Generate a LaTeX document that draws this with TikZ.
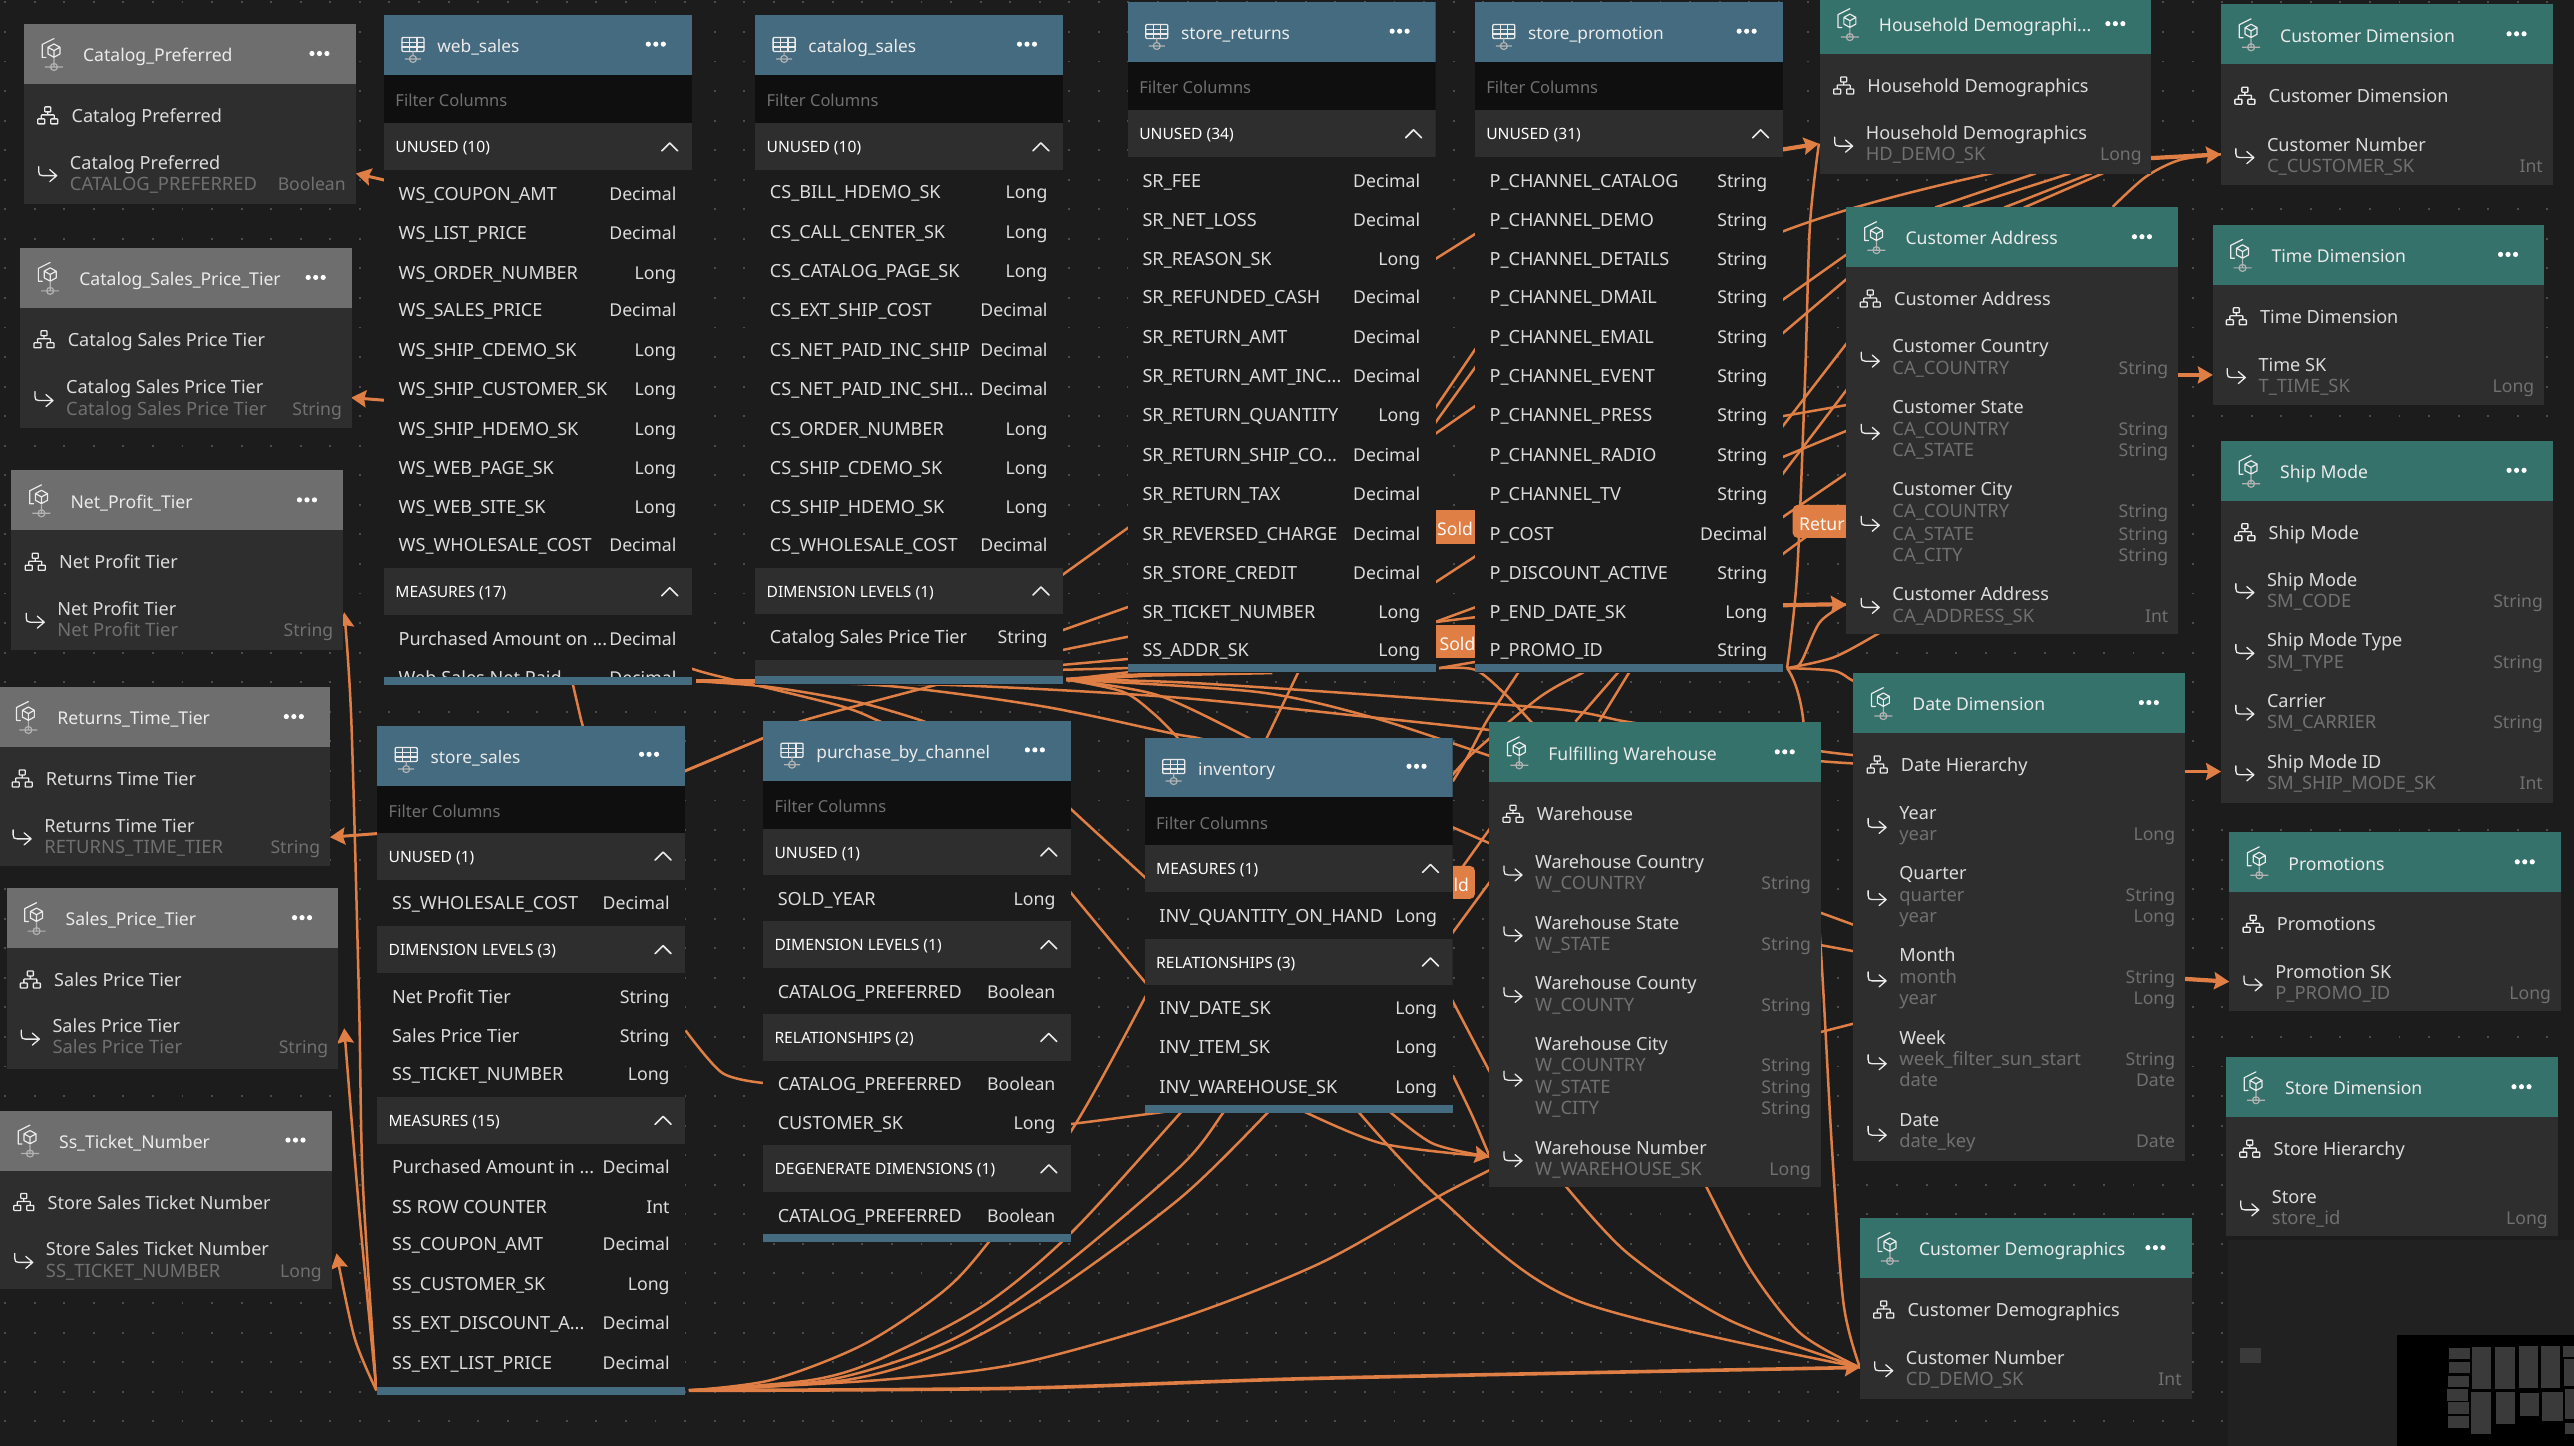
\documentclass[tikz,border=0pt]{standalone}
\usepackage{fontspec}
\usetikzlibrary{arrows.meta}
\setmainfont{Noto Sans}
\definecolor{cbg}{HTML}{1C1C1C}
\definecolor{cbglight}{HTML}{212121}
\definecolor{cbody}{HTML}{2E2E2E}
\definecolor{cfilter}{HTML}{0F0F0F}
\definecolor{cblue}{HTML}{456B80}
\definecolor{cgreen}{HTML}{35726B}
\definecolor{cgrey}{HTML}{6E6E6E}
\definecolor{cacc}{HTML}{E07F45}
\definecolor{cdot}{HTML}{4C4C4C}
\definecolor{cname}{HTML}{DCDCDC}
\definecolor{csub}{HTML}{707070}
\definecolor{cmini}{HTML}{3A3A3A}
\tikzset{
 conn/.style={draw=cacc,line width=2.5pt},
 fat/.style={draw=cacc,line width=4.2pt},
 tipped/.style={-{Stealth[length=15pt,width=17pt,inset=2pt]}},
 gapseg/.style={conn,shorten <=-2pt,shorten >=-2pt},
 tcommon/.style={inner sep=0pt,outer sep=0pt},
 rowname/.style={tcommon,anchor=base west,text=cname,font=\fontsize{18.1}{20}\selectfont},
 rowtype/.style={tcommon,anchor=base east,text=cname,font=\fontsize{17.7}{20}\selectfont},
 subname/.style={tcommon,anchor=base west,text=csub,font=\fontsize{18.4}{20}\selectfont},
 subtype/.style={tcommon,anchor=base east,text=csub,font=\fontsize{17.6}{20}\selectfont},
 filtertext/.style={tcommon,anchor=base west,text=csub,font=\fontsize{16.5}{20}\selectfont},
 secttext/.style={tcommon,anchor=base west,text=white,font=\bfseries\fontsize{15.6}{18}\selectfont},
 headtext/.style={tcommon,anchor=base west,text=white!92!black,font=\fontsize{17.6}{20}\selectfont},
 thead/.style={headtext,font=\fontsize{17.3}{20}\selectfont},
 lab/.style={tcommon,text=white!95!cacc,font=\fontsize{17.6}{20}\selectfont,anchor=base west},
 labbox/.style={fill=cacc,inner sep=0pt,outer sep=0pt},
 icl/.style={draw=white!92!black,line width=1.3pt,line cap=round,line join=round},
 icd/.style={draw=white!70!black,line width=1.2pt},
 panelbox/.style={inner sep=0pt,outer sep=0pt,anchor=north west}
}
\newcounter{tn}
\newcommand\tx[3]{\stepcounter{tn}\node[#1] (t\arabic{tn}) at (#2) {#3};}
\newcommand\icoDots[2]{\begin{scope}[shift={(#1,#2)},x=1pt,y=-1pt]\fill[white] (-7.5,0) circle (2.6) (0,0) circle (2.6) (7.5,0) circle (2.6);\end{scope}}
\newcommand\icoChev[2]{\begin{scope}[shift={(#1,#2)},x=1pt,y=-1pt]\draw[icl,line width=1.6pt] (-8,4) -- (0,-4) -- (8,4);\end{scope}}
\newcommand\icoHook[2]{\begin{scope}[shift={(#1,#2)},x=1pt,y=-1pt]\draw[icl] (0,-9) -- (0,-4) .. controls (0,-1) and (1,0) .. (4,0) -- (17,0) (11,-6) -- (18,0) -- (11,6);\end{scope}}
\newcommand\icoHier[2]{\begin{scope}[shift={(#1,#2)},x=1pt,y=-1pt]\draw[icl,rounded corners=0.6pt] (-3,-9) rectangle (3,-4) (-10,3) rectangle (-3,8) (3,3) rectangle (10,8) (0,-4) -- (0,-1) (-6.5,3) -- (-6.5,-1) -- (6.5,-1) -- (6.5,3);\end{scope}}
\newcommand\icoTable[2]{\begin{scope}[shift={(#1,#2)},x=1pt,y=-1pt]\draw[icl,rounded corners=1pt] (18,22) rectangle (40,36);\draw[icl] (18,27) -- (40,27) (18,31.5) -- (40,31.5) (25.5,22) -- (25.5,36) (33,22) -- (33,36);\draw[icd] (29,36) -- (29,40) (29,43.5) circle (3.5) (21,43.5) -- (37,43.5);\end{scope}}
\newcommand\icoCube[2]{\begin{scope}[shift={(#1,#2)},x=1pt,y=-1pt]\draw[icl,line width=1.2pt] (30,14.6) -- (18.2,20.5) -- (18.2,33.4) -- (22,33.4);\draw[icl,line width=1.2pt] (30,20) -- (36,23.3) -- (36,30) -- (30,33.3) -- (24,30) -- (24,23.3) -- cycle (24,23.3) -- (30,26.6) -- (36,23.3) (30,26.6) -- (30,33.3);\draw[icd] (30,34) -- (30,43) (30,43) circle (3.5) (21,43) -- (39,43);\end{scope}}
% --- tables
\newcommand\tablestart[5]{\pgfmathsetmacro\Lx{#2}\pgfmathsetmacro\Rx{#2+187.6}\pgfmathsetmacro\Ty{#3}\pgfmathsetmacro\By{#4}
 \pgfmathsetmacro\wp{187.6*1.6416}\pgfmathsetmacro\hp{(#4+5-#3)*1.6416}
 \node[panelbox,fill=cbg,minimum width=\wp pt,minimum height=\hp pt] (#1) at (\Lx,\Ty) {};
 \begin{scope}\clip (\Lx,\Ty) rectangle (\Rx,\By);
 \fill[cblue] (\Lx,\Ty) rectangle (\Rx,\Ty+36.5);
 \fill[cfilter] (\Lx,\Ty+36.5) rectangle (\Rx,\Ty+65.4);
 \icoTable{\Lx}{\Ty}
 \tx{thead}{\Lx+32.5,\Ty+22.8}{#5}
 \icoDots{\Rx-22}{\Ty+17.5}
 \tx{filtertext}{\Lx+7,\Ty+55.7}{Filter Columns}}
\newcommand\tableend{\end{scope}\fill[cblue] (\Lx,\By) rectangle (\Rx,\By+4.6);}
\newcommand\sect[2]{\fill[cbody] (\Lx,#1-14.3) rectangle (\Rx,#1+14.3);\tx{secttext}{\Lx+7,#1+3.7}{#2}\icoChev{\Rx-13.5}{#1}}
\newcommand\trow[3]{\tx{rowname}{\Lx+9,#1+4}{#2}\tx{rowtype}{\Rx-9.5,#1+4}{#3}}
% --- dimension panels
\newcommand\dimstart[7]{\pgfmathsetmacro\Lx{#3}\pgfmathsetmacro\Rx{#3+202}\pgfmathsetmacro\Ty{#4}\pgfmathsetmacro\wp{202*1.6416}\pgfmathsetmacro\hp{(#5-#4)*1.6416}
 \node[panelbox,fill=cbody,minimum width=\wp pt,minimum height=\hp pt] (#1) at (\Lx,\Ty) {};
 \fill[#2] (\Lx,\Ty) rectangle (\Rx,\Ty+36.6);
 \icoCube{\Lx}{\Ty}
 \tx{headtext}{\Lx+36,\Ty+23}{#6}
 \icoDots{\Rx-22}{\Ty+18}
 \icoHier{\Lx+14.5}{\Ty+56}
 \tx{rowname}{\Lx+29,\Ty+60}{#7}}
\newcommand\hk[1]{\icoHook{\Lx+9}{#1}}
\newcommand\att[2]{\tx{rowname}{\Lx+28,#1+4}{#2}}
\newcommand\subrow[3]{\tx{subname}{\Lx+28,#1+4}{#2}\tx{subtype}{\Rx-6,#1+4}{#3}}
\begin{document}
\catcode`\_=12
\begin{tikzpicture}[x=1.6416pt,y=-1.6416pt]
\useasboundingbox (0,0) rectangle (1568,880.85);
\clip (0,0) rectangle (1568,880.85);
\fill[cbg] (0,0) rectangle (1568,880.85);
\begin{scope}[x=1pt,y=-1pt]
\foreach \i in {0,...,87}{\foreach \j in {0,...,49}{\fill[cdot] ({4.2+\i*29.56},{1.4+\j*29.56}) rectangle ++(1.9,1.9);}}
\fill[cbglight] (2228,1240) rectangle (2574,1446);
\end{scope}
% overview map
\begin{scope}[shift={(2100pt,-1200pt)},x=0.3333pt,y=-0.3333pt]
\fill[cmini] (420,444) rectangle (483,489);
\fill[black] (891,404) rectangle (1422,738);
\foreach \a/\b/\c/\d in {1047/444/1110/477,1047/486/1110/519,1044/528/1107/561,1041/567/1104/603,1044/606/1107/642,1044/648/1107/684,1116/441/1173/567,1185/441/1245/567,1257/438/1314/564,1323/438/1380/564,1389/438/1422/471,1392/477/1422/558,1113/576/1173/702,1188/576/1245/672,1260/579/1317/648,1326/576/1389/663,1395/567/1422/657,1395/669/1422/702}{\fill[cmini] (\a,\b) rectangle (\c,\d);}
\end{scope}
% ports
\coordinate (sL) at (229.3,847);
\coordinate (sR) at (419.7,847);
\coordinate (wR) at (424,415);
\coordinate (cR) at (649.5,414);
\coordinate (rR) at (876.6,407);
\coordinate (pR) at (1088.6,407);
\coordinate (inHH) at (1108,87.5);
\coordinate (inCU) at (1353,94);
\coordinate (inTM) at (1348,228.4);
\coordinate (inAD) at (1124.5,368);
\coordinate (inSM) at (1353,470);
\coordinate (inPR) at (1358,598);
\coordinate (inWH) at (907.5,704.6);
\coordinate (inCD) at (1133,833);
\coordinate (inCP) at (216.8,105.7);
\coordinate (inCT) at (213.9,242.2);
\coordinate (inNP) at (209.7,373);
\coordinate (inRT) at (201,510);
\coordinate (inSP) at (209.7,626.4);
\coordinate (inST) at (205,763.5);
% connectors on the left
\draw[conn,tipped] plot[smooth] coordinates {(sL) (221,720) (218.7,609) (214,438.6) (inNP)};
\draw[conn,tipped] plot[smooth] coordinates {(sL) (219,740) (inSP)};
\draw[conn,tipped] plot[smooth] coordinates {(sL) (216,815) (inST)};
\draw[conn,line width=3pt,tipped] (240,507) -- (inRT);
\draw[conn,line width=3pt,tipped] plot[smooth] coordinates {(240,111) (233.8,109.6) (inCP)};
\draw[conn,line width=3pt,tipped] plot[smooth] coordinates {(240,244) (234,243.8) (inCT)};
\draw[conn] (348.3,414) -- (354,438.6) -- (356,446);
% web_sales and catalog_sales fan
\draw[fat] (wR) -- (462,415);
\draw[conn] plot[smooth] coordinates {(418,406) (434,411) (510,429.5) (534,438.6) (545,444)};
\draw[conn] plot[smooth] coordinates {(wR) (469,418.5) (522,427.6) (560.4,438.6) (575,445)};
\draw[conn] plot[smooth] coordinates {(wR) (571,417) (712.7,424.6) (836,437) (907.6,444.7) (1000,455) (1109,463.7) (1129,465)};
\draw[conn] plot[smooth] coordinates {(wR) (534,417.3) (633.5,430) (712.7,446.5) (727,449) (740,452)};
\draw[conn] plot[smooth] coordinates {(cR) (731,416.3) (938,431) (990.8,439.6) (1050,449) (1109,457.6) (1129,460)};
\draw[conn] plot[smooth] coordinates {(cR) (684,421.4) (702.5,434.5) (717,449) (720,455)};
\draw[conn] plot[smooth] coordinates {(cR) (705,423.4) (759.6,449) (768,455)};
\draw[conn] plot[smooth] coordinates {(cR) (765.7,421.5) (836,437) (907.6,460.5) (915,463)};
\draw[fat] (cR) -- (700,411) -- (775,409.5);
\draw[conn] (cR) -- (700,408);
\draw[conn] (770,453) -- (793,405);
\draw[conn] plot[smooth] coordinates {(412,472) (465,449.6) (489,439) (571,417) (580,414)};
% gaps between the tables
\foreach \a/\b/\c/\d in {647.5/350/686.5/322,647/384/686.5/370,647/396/686.5/388,647.5/405/686.5/401.5,647.5/408/686.5/407,
 874/158/898.5/142.6,874/249/898.5/213,874/258/898.5/224,874/264.5/898.5/247.4,874/355/898.5/339,874/379/898.5/370,874/379/898.5/376,
 1086/182.6/1124.5/155.3,1086/203/1124.5/170.3,1086/259.6/1124.5/209.7,1086/253.5/1124.5/246.8,1086/288.6/1124.5/238,1086/278.4/1124.5/262.6,1086/315/1124.5/288.6,1086/337.5/1124.5/309,
 1180/126/1239/106,1197/126/1260/106,1222/126/1273/106,1234/126/1280/106,
 1109/556/1129/563.3,1109/575.7/1129/579.4,1109/628.7/1129/623.6,
 652.5/493/697/534,652.5/544/697/597.7,885/504/907/513.5,907/505.6/891/528,907/538/885/568,885/610/907/652,
 417.6/469.4/465/449.6,960.5/438.6/985.8/409.5,974.7/438.6/992.5/409.5}{\draw[gapseg] (\a,\b) -- (\c,\d);}
\draw[conn] (1086,141) .. controls (1120,128) and (1165,116) .. (1225,103);
\draw[conn] plot[smooth] coordinates {(880,478) (897,459) (938,424.6) (964.6,409.5) (972,405)};
\draw[conn] plot[smooth] coordinates {(885,476) (894,461) (906,438.6) (925,409.5) (928,405)};
\draw[conn] plot[smooth] coordinates {(417.6,627.7) (440,653.6) (465,659.7)};
\draw[conn] plot[smooth] coordinates {(650,685) (670,682.5) (719,676)};
% store_returns hub
\draw[conn] (rR) -- (900,403);
\draw[conn] plot[smooth] coordinates {(rR) (898.5,408) (916,422) (933,440) (942,450)};
% store_promotion hub
\draw[conn] plot[smooth] coordinates {(pR) (1094.7,350) (1099.6,230) (1102.5,138) (inHH)};
\draw[fat,tipped] (1080,92) -- (inHH);
\draw[conn] plot[smooth] coordinates {(pR) (1096.6,404.2) (1108.6,379) (inAD)};
\draw[fat,tipped] (1080,368.8) -- (inAD);
\draw[conn] plot[smooth] coordinates {(pR) (1116.8,400.5) (1143.6,386.3) (1150,382)};
\draw[conn] plot[smooth] coordinates {(pR) (1117,408.6) (1128,414.3) (1135,417)};
\draw[conn] plot[smooth] coordinates {(pR) (1098.5,438.7) (1109,576) (1116,700) (1123,794) (inCD)};
% right hand side
\draw[fat,tipped] (1305,96.6) -- (inCU);
\draw[conn] plot[smooth] coordinates {(1287,126) (1307,107.8) (1327.6,97.5) (inCU)};
\draw[fat,tipped] (1322,228.4) -- (inTM);
\draw[conn,line width=3pt,tipped] (1326,470) -- (inSM);
\draw[fat,tipped] (1326,596) -- (inPR);
% store_sales fan
\draw[conn] plot[smooth] coordinates {(sR) (470,840.6) (526,819) (574.4,786.8) (602,757) (652.5,689) (697,608.6) (705,590)};
\draw[conn] plot[smooth] coordinates {(sR) (494.6,840.6) (536.9,827.6) (599.6,795) (652.5,751) (719,678) (725,670)};
\draw[conn] plot[smooth] coordinates {(sR) (505,840.6) (578.7,816.7) (641.6,776) (719,710.6) (745,678) (750,670)};
\draw[conn] plot[smooth] coordinates {(sR) (515.7,840.6) (578.7,822) (641.6,786.8) (719,729.8) (772,678) (776,672)};
\draw[conn] plot[smooth] coordinates {(sR) (536.7,840.6) (620.7,830.6) (719,803) (804,769.6) (876,729) (907,713) (912,710)};
\draw[conn,line width=3.6pt,tipped] plot[smooth] coordinates {(sR) (618,845.7) (804,839.6) (inCD)};
\draw[conn] plot[smooth] coordinates {(823,672) (876,729) (960,792) (inCD)};
\draw[conn] plot[smooth] coordinates {(950,718) (991,763) (1053,804) (inCD)};
\draw[conn] plot[smooth] coordinates {(1037,718) (1065.4,772) (1096.5,812) (inCD)};
\draw[conn] plot[smooth] coordinates {(790,675) (841.6,696.5) (inWH)};
\draw[conn,tipped] plot[smooth] coordinates {(844,675) (872.6,696.5) (inWH)};
\draw[conn] plot[smooth] coordinates {(885,655) (897,680) (inWH)};
% labels on connectors
\node[labbox,minimum width=40.2pt,minimum height=33.6pt] (sold1) at (886.2,321.2) {};
\tx{lab}{875.5,326}{Sold}
\node[labbox,minimum width=40.2pt,minimum height=33pt] (sold2) at (886.2,391) {};
\tx{lab}{877,396}{Sold}
\node[labbox,rounded corners=5pt,minimum width=60pt,minimum height=33pt,anchor=west] (retur) at (1092,317.6) {};
\tx{lab}{1096,323}{Retur}
\node[labbox,rounded corners=5pt,minimum width=50pt,minimum height=33pt,anchor=east] (sold3) at (898.5,537.5) {};
\tx{lab}{885.5,543}{ld}
% tables
\tablestart{web_sales}{233.9}{9.4}{412.5}{web_sales}
\sect{89.5}{UNUSED (10)}
\trow{118}{WS_COUPON_AMT}{Decimal}\trow{142}{WS_LIST_PRICE}{Decimal}\trow{166}{WS_ORDER_NUMBER}{Long}\trow{189}{WS_SALES_PRICE}{Decimal}\trow{213}{WS_SHIP_CDEMO_SK}{Long}\trow{237}{WS_SHIP_CUSTOMER_SK}{Long}\trow{261}{WS_SHIP_HDEMO_SK}{Long}\trow{285}{WS_WEB_PAGE_SK}{Long}\trow{309}{WS_WEB_SITE_SK}{Long}\trow{332}{WS_WHOLESALE_COST}{Decimal}
\sect{360.5}{MEASURES (17)}
\trow{389}{Purchased Amount on ...}{Decimal}\trow{413}{Web Sales Net Paid}{Decimal}
\tableend
\tablestart{catalog_sales}{460}{9.4}{412}{catalog_sales}
\sect{89.5}{UNUSED (10)}
\trow{117}{CS_BILL_HDEMO_SK}{Long}\trow{141}{CS_CALL_CENTER_SK}{Long}\trow{165}{CS_CATALOG_PAGE_SK}{Long}\trow{189}{CS_EXT_SHIP_COST}{Decimal}\trow{213}{CS_NET_PAID_INC_SHIP}{Decimal}\trow{237}{CS_NET_PAID_INC_SHI...}{Decimal}\trow{261}{CS_ORDER_NUMBER}{Long}\trow{285}{CS_SHIP_CDEMO_SK}{Long}\trow{309}{CS_SHIP_HDEMO_SK}{Long}\trow{332}{CS_WHOLESALE_COST}{Decimal}
\sect{360}{DIMENSION LEVELS (1)}
\trow{388}{Catalog Sales Price Tier}{String}
\fill[cbody] (\Lx,402) rectangle (\Rx,412);
\tableend
\tablestart{store_returns}{687}{1.5}{404.7}{store_returns}
\sect{81.5}{UNUSED (34)}
\trow{110}{SR_FEE}{Decimal}\trow{134}{SR_NET_LOSS}{Decimal}\trow{158}{SR_REASON_SK}{Long}\trow{181}{SR_REFUNDED_CASH}{Decimal}\trow{205}{SR_RETURN_AMT}{Decimal}\trow{229}{SR_RETURN_AMT_INC...}{Decimal}\trow{253}{SR_RETURN_QUANTITY}{Long}\trow{277}{SR_RETURN_SHIP_CO...}{Decimal}\trow{301}{SR_RETURN_TAX}{Decimal}\trow{325}{SR_REVERSED_CHARGE}{Decimal}\trow{349}{SR_STORE_CREDIT}{Decimal}\trow{373}{SR_TICKET_NUMBER}{Long}\trow{396}{SS_ADDR_SK}{Long}
\tableend
\tablestart{store_promotion}{898.4}{1.5}{404.7}{store_promotion}
\sect{81.5}{UNUSED (31)}
\trow{110}{P_CHANNEL_CATALOG}{String}\trow{134}{P_CHANNEL_DEMO}{String}\trow{158}{P_CHANNEL_DETAILS}{String}\trow{181}{P_CHANNEL_DMAIL}{String}\trow{205}{P_CHANNEL_EMAIL}{String}\trow{229}{P_CHANNEL_EVENT}{String}\trow{253}{P_CHANNEL_PRESS}{String}\trow{277}{P_CHANNEL_RADIO}{String}\trow{301}{P_CHANNEL_TV}{String}\trow{325}{P_COST}{Decimal}\trow{349}{P_DISCOUNT_ACTIVE}{String}\trow{373}{P_END_DATE_SK}{Long}\trow{396}{P_PROMO_ID}{String}
\tableend
\tablestart{store_sales}{229.8}{442}{845}{store_sales}
\sect{521.5}{UNUSED (1)}
\trow{550}{SS_WHOLESALE_COST}{Decimal}
\sect{578.5}{DIMENSION LEVELS (3)}
\trow{607}{Net Profit Tier}{String}\trow{631}{Sales Price Tier}{String}\trow{654}{SS_TICKET_NUMBER}{Long}
\sect{682.5}{MEASURES (15)}
\trow{711}{Purchased Amount in ...}{Decimal}\trow{735}{SS ROW COUNTER}{Int}\trow{758}{SS_COUPON_AMT}{Decimal}\trow{782}{SS_CUSTOMER_SK}{Long}\trow{806}{SS_EXT_DISCOUNT_A...}{Decimal}\trow{830}{SS_EXT_LIST_PRICE}{Decimal}
\tableend
\tablestart{purchase_by_channel}{464.8}{439.3}{751.7}{purchase_by_channel}
\sect{519}{UNUSED (1)}
\trow{547.5}{SOLD_YEAR}{Long}
\sect{575.5}{DIMENSION LEVELS (1)}
\trow{604}{CATALOG_PREFERRED}{Boolean}
\sect{632}{RELATIONSHIPS (2)}
\trow{660.5}{CATALOG_PREFERRED}{Boolean}\trow{684}{CUSTOMER_SK}{Long}
\sect{712}{DEGENERATE DIMENSIONS (1)}
\trow{740.5}{CATALOG_PREFERRED}{Boolean}
\tableend
\tablestart{inventory}{697.3}{449.3}{673.3}{inventory}
\sect{529}{MEASURES (1)}
\trow{558}{INV_QUANTITY_ON_HAND}{Long}
\sect{586}{RELATIONSHIPS (3)}
\trow{614}{INV_DATE_SK}{Long}\trow{638}{INV_ITEM_SK}{Long}\trow{662}{INV_WAREHOUSE_SK}{Long}
\tableend
% grey dimension panels
\dimstart{Catalog_Preferred}{cgrey}{14.6}{14.6}{124}{Catalog_Preferred}{Catalog Preferred}
\hk{107}\att{99}{Catalog Preferred}\subrow{112}{CATALOG_PREFERRED}{Boolean}
\dimstart{Catalog_Sales_Price_Tier}{cgrey}{12.3}{151}{261}{Catalog_Sales_Price_Tier}{Catalog Sales Price Tier}
\hk{244}\att{236}{Catalog Sales Price Tier}\subrow{249}{Catalog Sales Price Tier}{String}
\dimstart{Net_Profit_Tier}{cgrey}{7}{286.5}{396}{Net_Profit_Tier}{Net Profit Tier}
\hk{379}\att{371}{Net Profit Tier}\subrow{384}{Net Profit Tier}{String}
\dimstart{Returns_Time_Tier}{cgrey}{-1}{418.5}{527.5}{Returns_Time_Tier}{Returns Time Tier}
\hk{511}\att{503}{Returns Time Tier}\subrow{516}{RETURNS_TIME_TIER}{String}
\dimstart{Sales_Price_Tier}{cgrey}{4}{541}{651}{Sales_Price_Tier}{Sales Price Tier}
\hk{633}\att{625}{Sales Price Tier}\subrow{638}{Sales Price Tier}{String}
\dimstart{Ss_Ticket_Number}{cgrey}{0}{676.5}{785.5}{Ss_Ticket_Number}{Store Sales Ticket Number}
\hk{769}\att{761}{Store Sales Ticket Number}\subrow{774}{SS_TICKET_NUMBER}{Long}
% green dimension panels
\dimstart{Household}{cgreen}{1108.6}{-3.6}{106}{Household Demographi...}{Household Demographics}
\hk{89}\att{81}{Household Demographics}\subrow{94}{HD_DEMO_SK}{Long}
\dimstart{Customer_Dimension}{cgreen}{1353}{2.6}{113}{Customer Dimension}{Customer Dimension}
\hk{96}\att{88}{Customer Number}\subrow{101}{C_CUSTOMER_SK}{Int}
\dimstart{Customer_Address}{cgreen}{1124.8}{126.2}{386}{Customer Address}{Customer Address}
\hk{220}\att{211}{Customer Country}\subrow{224}{CA_COUNTRY}{String}
\hk{264}\att{248}{Customer State}\subrow{261}{CA_COUNTRY}{String}\subrow{274}{CA_STATE}{String}
\hk{320}\att{298}{Customer City}\subrow{311}{CA_COUNTRY}{String}\subrow{325}{CA_STATE}{String}\subrow{338}{CA_CITY}{String}
\hk{370}\att{362}{Customer Address}\subrow{375}{CA_ADDRESS_SK}{Int}
\dimstart{Time_Dimension}{cgreen}{1347.8}{137}{247}{Time Dimension}{Time Dimension}
\hk{230}\att{222}{Time SK}\subrow{235}{T_TIME_SK}{Long}
\dimstart{Ship_Mode}{cgreen}{1353}{268.5}{489}{Ship Mode}{Ship Mode}
\hk{361}\att{353}{Ship Mode}\subrow{366}{SM_CODE}{String}
\hk{398}\att{390}{Ship Mode Type}\subrow{403}{SM_TYPE}{String}
\hk{435}\att{427}{Carrier}\subrow{440}{SM_CARRIER}{String}
\hk{472}\att{464}{Ship Mode ID}\subrow{477}{SM_SHIP_MODE_SK}{Int}
\dimstart{Date_Dimension}{cgreen}{1129}{410}{707}{Date Dimension}{Date Hierarchy}
\hk{504}\att{495}{Year}\subrow{508}{year}{Long}
\hk{548}\att{532}{Quarter}\subrow{545}{quarter}{String}\subrow{558}{year}{Long}
\hk{597.5}\att{582}{Month}\subrow{595}{month}{String}\subrow{608}{year}{Long}
\hk{648}\att{632}{Week}\subrow{645}{week_filter_sun_start}{String}\subrow{658}{date}{Date}
\hk{691.5}\att{682}{Date}\subrow{695}{date_key}{Date}
\dimstart{Promotions}{cgreen}{1358}{507}{616}{Promotions}{Promotions}
\hk{600}\att{592}{Promotion SK}\subrow{605}{P_PROMO_ID}{Long}
\dimstart{Store_Dimension}{cgreen}{1356}{644}{753}{Store Dimension}{Store Hierarchy}
\hk{737}\att{729}{Store}\subrow{742}{store_id}{Long}
\dimstart{Customer_Demographics}{cgreen}{1133}{742}{852}{Customer Demographics}{Customer Demographics}
\hk{835}\att{827}{Customer Number}\subrow{840}{CD_DEMO_SK}{Int}
\dimstart{Fulfilling_Warehouse}{cgreen}{907.2}{440}{723}{Fulfilling Warehouse}{Warehouse}
\hk{533}\att{525}{Warehouse Country}\subrow{538}{W_COUNTRY}{String}
\hk{570}\att{562}{Warehouse State}\subrow{575}{W_STATE}{String}
\hk{607}\att{599}{Warehouse County}\subrow{612}{W_COUNTY}{String}
\hk{658}\att{636}{Warehouse City}\subrow{649}{W_COUNTRY}{String}\subrow{662}{W_STATE}{String}\subrow{675}{W_CITY}{String}
\hk{707}\att{699}{Warehouse Number}\subrow{712}{W_WAREHOUSE_SK}{Long}
\end{tikzpicture}
\end{document}
